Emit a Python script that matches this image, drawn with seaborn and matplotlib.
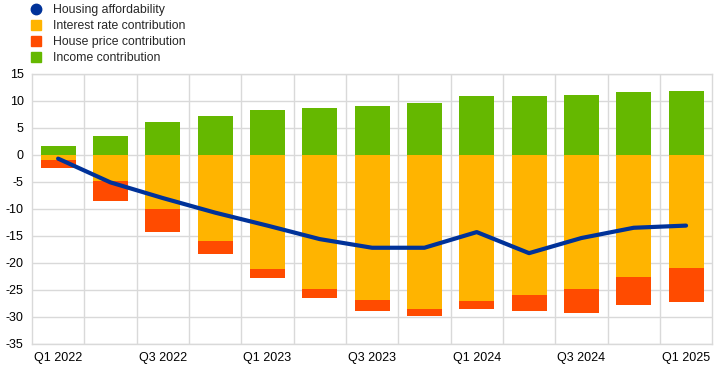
import matplotlib
matplotlib.use("Agg")
import matplotlib.pyplot as plt
from matplotlib.lines import Line2D
import seaborn as sns
import numpy as np
import pandas as pd

quarters = ["Q1 2022", "Q2 2022", "Q3 2022", "Q4 2022",
            "Q1 2023", "Q2 2023", "Q3 2023", "Q4 2023",
            "Q1 2024", "Q2 2024", "Q3 2024", "Q4 2024", "Q1 2025"]
income = [1.7, 3.4, 6.0, 7.2, 8.3, 8.7, 9.0, 9.6, 10.9, 10.9, 11.1, 11.6, 11.8]
interest_rate = [-0.9, -4.9, -10.0, -15.9, -21.2, -24.8, -26.9, -28.5,
                 -27.1, -26.0, -24.9, -22.7, -21.0]
house_price = [-1.5, -3.7, -4.2, -2.5, -1.6, -1.7, -2.0, -1.3,
               -1.4, -3.0, -4.4, -5.1, -6.2]
affordability = [-0.7, -5.1, -8.0, -10.7, -13.1, -15.6, -17.2, -17.2,
                 -14.3, -18.2, -15.4, -13.5, -13.1]

blue = "#003299"
yellow = "#FFB400"
red = "#FF4B00"
green = "#65B800"

df = pd.DataFrame({
    "quarter": quarters,
    "income": income,
    "interest": interest_rate,
    "house": house_price,
    "afford": affordability,
})
df["neg_total"] = df["interest"] + df["house"]
df["pos"] = np.arange(len(df))

sns.set_style("white")
plt.rcParams["font.family"] = ["Liberation Sans", "DejaVu Sans"]
plt.rcParams["axes.unicode_minus"] = False

fig = plt.figure(figsize=(7.26, 3.69), dpi=100)
ax = fig.add_axes([0.044, 0.068, 0.937, 0.732])

w = 0.67
# stacked negatives: full negative total in red, interest part on top in yellow
sns.barplot(data=df, x="quarter", y="neg_total", color=red, width=w,
            saturation=1, ax=ax, linewidth=0, zorder=2)
sns.barplot(data=df, x="quarter", y="interest", color=yellow, width=w,
            saturation=1, ax=ax, linewidth=0, zorder=2)
sns.barplot(data=df, x="quarter", y="income", color=green, width=w,
            saturation=1, ax=ax, linewidth=0, zorder=2)
sns.lineplot(data=df, x="pos", y="afford", color=blue, linewidth=3,
             ax=ax, zorder=3)

ax.set_xlim(-0.5, len(quarters) - 0.5)
ax.set_ylim(-35, 15)
ax.set_yticks(np.arange(-35, 16, 5))
ax.set_xticks(np.arange(0, len(quarters), 2))
ax.set_xticklabels(quarters[::2])
ax.set_xticks(np.arange(0.5, len(quarters) - 1, 1), minor=True)
ax.set_xlabel("")
ax.set_ylabel("")

ax.grid(True, axis="y", color="#d9d9d9", linewidth=1, zorder=0)
ax.grid(True, axis="x", which="minor", color="#d9d9d9", linewidth=1, zorder=0)
ax.grid(False, axis="x", which="major")
ax.set_axisbelow(True)
for s in ax.spines.values():
    s.set_color("#d9d9d9")
    s.set_linewidth(1)
ax.tick_params(axis="both", which="both", length=0, labelsize=9, colors="black")
ax.tick_params(axis="y", pad=6)
ax.tick_params(axis="x", pad=6)

handles = [
    Line2D([], [], marker="o", linestyle="none", color=blue, markersize=7.5),
    Line2D([], [], marker="s", linestyle="none", color=yellow, markersize=7.5),
    Line2D([], [], marker="s", linestyle="none", color=red, markersize=7.5),
    Line2D([], [], marker="s", linestyle="none", color=green, markersize=7.5),
]
labels = ["Housing affordability", "Interest rate contribution",
          "House price contribution", "Income contribution"]
fig.legend(handles, labels, loc="upper left", bbox_to_anchor=(0.033, 1.003),
           frameon=False, fontsize=8.8, handletextpad=0.75, labelspacing=0.33,
           handlelength=1.2, borderaxespad=0)

fig.savefig("out.png", dpi=100)
